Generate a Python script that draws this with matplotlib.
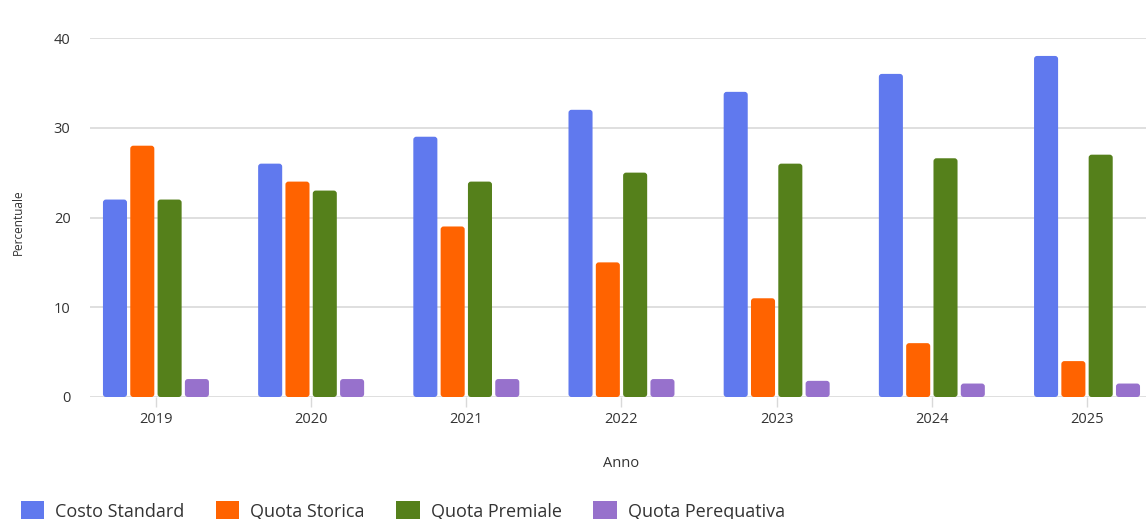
import numpy as np
import matplotlib.pyplot as plt
from matplotlib.patches import FancyBboxPatch, Patch

plt.rcParams['font.family'] = ['Open Sans', 'DejaVu Sans']

# dati
anni = ['2019', '2020', '2021', '2022', '2023', '2024', '2025']
costo_standard = [22, 26, 29, 32, 34, 36, 38]
quota_storica = [28, 24, 19, 15, 11, 6, 4]
quota_premiale = [22, 23, 24, 25, 26, 26.6, 27]
quota_perequativa = [2, 2, 2, 2, 1.8, 1.5, 1.5]

serie = [
    ('Costo Standard', costo_standard, '#6079ee'),
    ('Quota Storica', quota_storica, '#ff6300'),
    ('Quota Premiale', quota_premiale, '#55801b'),
    ('Quota Perequativa', quota_perequativa, '#9771cc'),
]

fig = plt.figure(figsize=(11.46, 5.19), dpi=100)
ax = fig.add_axes([90 / 1146, 1 - 397 / 519, 1 - 90 / 1146, 359 / 519])

x = np.arange(len(anni))
larg = 0.155
passo = 0.176
ax.set_xlim(-0.425, 6.38)
ax.set_ylim(0, 40)

# px per unita', per arrotondare gli angoli in modo uniforme
px_x = 1056 / (6.38 + 0.425)
px_y = 359 / 40
raggio = 3 / px_x
aspetto = px_x / px_y

maniglie = []
for i, (nome, valori, colore) in enumerate(serie):
    off = (i - 1.5) * passo
    for xi, v in zip(x, valori):
        p = FancyBboxPatch((xi + off - larg / 2, 0), larg, v,
                           boxstyle=f'round,pad=0,rounding_size={raggio}',
                           mutation_aspect=aspetto,
                           facecolor=colore, edgecolor='none', zorder=3)
        ax.add_patch(p)
    maniglie.append(Patch(facecolor=colore, label=nome))

ax.set_yticks([0, 10, 20, 30, 40])
ax.set_xticks(x)
ax.set_xticklabels(anni)
ax.yaxis.grid(True, color='#d9d9d9', linewidth=1.2, zorder=0)
ax.set_axisbelow(True)
for s in ax.spines.values():
    s.set_visible(False)
ax.tick_params(axis='y', length=0, pad=14, labelsize=10.5, labelcolor='#333333')
ax.tick_params(axis='x', length=7, width=1, color='#d9d9d9', pad=4,
               labelsize=10.5, labelcolor='#333333')

ax.set_xlabel('Anno', fontsize=10.5, color='#333333')
ax.xaxis.set_label_coords((621 - 90) / 1056, -(456 - 397) / 359)
fig.text(18 / 1146, 1 - 222 / 519, 'Percentuale', rotation=90,
         ha='center', va='center', fontsize=8.5, color='#333333')

fig.legend(handles=maniglie, loc='lower left', bbox_to_anchor=(0.004, -0.035),
           ncol=4, frameon=False, fontsize=13, handlelength=1.3,
           handleheight=1.3, handletextpad=0.6, columnspacing=1.75,
           labelcolor='#333333')

fig.savefig('out.png', dpi=100, facecolor='white')
